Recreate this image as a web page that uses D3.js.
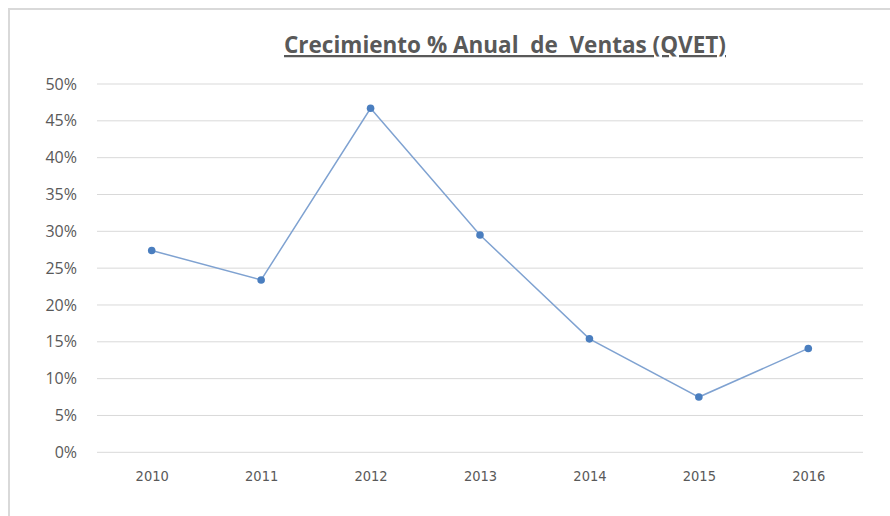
<!DOCTYPE html>
<html><head><meta charset="utf-8">
<script src="https://cdn.jsdelivr.net/npm/d3@7"></script>
<style>body{margin:0;background:#fff}svg{display:block}</style>
</head><body>
<svg id="c" width="890" height="516"></svg>
<script>
const years = ["2010","2011","2012","2013","2014","2015","2016"];
const growth = [0.274, 0.234, 0.467, 0.295, 0.154, 0.075, 0.141];
const yTicks = [0,0.05,0.10,0.15,0.20,0.25,0.30,0.35,0.40,0.45,0.50];
const title = "Crecimiento % Anual  de  Ventas (QVET)";

const svg = d3.select("#c");
svg.append("rect").attr("x",0).attr("y",0).attr("width",890).attr("height",516).attr("fill","#fff");
svg.append("path").attr("d","M9,516 V9 H890").attr("fill","none").attr("stroke","#d9d9d9").attr("stroke-width",2);

const L=97, R=863, T=84, B=452.3;
const x = d3.scalePoint().domain(years).range([L,R]).padding(0.5);
const y = d3.scaleLinear().domain([0,0.5]).range([B,T]);

svg.append("g").selectAll("line").data(yTicks).join("line")
  .attr("x1",L).attr("x2",R).attr("y1",d=>y(d)).attr("y2",d=>y(d))
  .attr("stroke","#d9d9d9").attr("stroke-width",1);

const yAxis = d3.axisLeft(y).tickValues(yTicks).tickFormat(d3.format(".0%")).tickSize(0).tickPadding(20);
const gy = svg.append("g").attr("transform",`translate(${L},0)`).call(yAxis);
gy.select(".domain").remove();
gy.selectAll("text").attr("fill","#595959").style("font-family","Open Sans, Liberation Sans, sans-serif").style("font-size","16px");

const xAxis = d3.axisBottom(x).tickSize(0).tickPadding(18);
const gx = svg.append("g").attr("transform",`translate(0,${B})`).call(xAxis);
gx.select(".domain").remove();
gx.selectAll("text").attr("fill","#595959").style("font-family","DejaVu Sans Condensed, DejaVu Sans, sans-serif").style("font-stretch","condensed").style("font-size","14.5px");

const line = d3.line().x((d,i)=>x(years[i])).y(d=>y(d));
svg.append("path").datum(growth).attr("d",line).attr("fill","none")
  .attr("stroke","#7fa2d1").attr("stroke-width",1.5);
svg.append("g").selectAll("circle").data(growth).join("circle")
  .attr("cx",(d,i)=>x(years[i])).attr("cy",d=>y(d)).attr("r",3.8).attr("fill","#4a7ebf");

svg.append("text").attr("x",505).attr("y",53).attr("text-anchor","middle")
  .attr("fill","#595959").style("font-family","Open Sans, sans-serif").style("font-weight","bold")
  .style("font-size","22.5px").style("text-decoration","underline").style("white-space","pre")
  .attr("xml:space","preserve").text(title);
</script>
</body></html>
